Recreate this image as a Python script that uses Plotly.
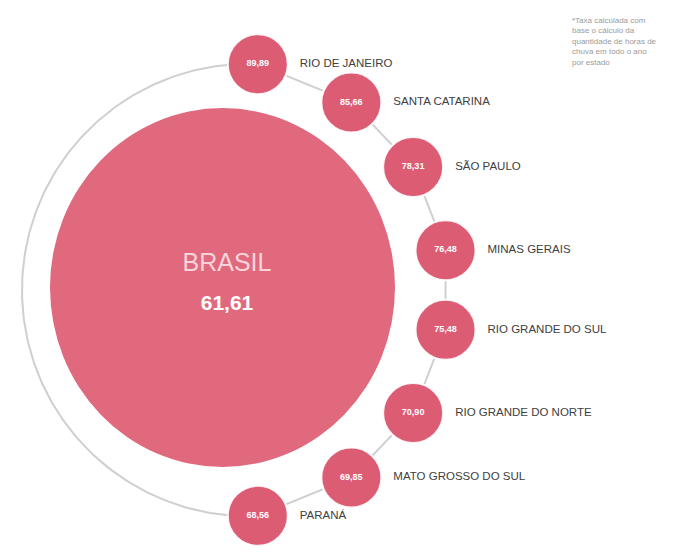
import numpy as np
import plotly.graph_objects as go

# ---- data ----
states = ["RIO DE JANEIRO", "SANTA CATARINA", "SÃO PAULO", "MINAS GERAIS",
          "RIO GRANDE DO SUL", "RIO GRANDE DO NORTE", "MATO GROSSO DO SUL", "PARANÁ"]
values = [89.89, 85.66, 78.31, 76.48, 75.48, 70.90, 69.85, 68.56]
brasil_label = "BRASIL"
brasil_value = 61.61
note_lines = ["*Taxa calculada com", "base o cálculo da", "quantidade de horas de",
              "chuva em todo o ano", "por estado"]


def br(v):
    return f"{v:.2f}".replace(".", ",")


W, H = 691, 552
cx, cy, R = 220, 290, 229
ang_deg = [-80.5, -55, -32.5, -10, 10, 32.5, 55, 80.5]
ang = np.radians(ang_deg)
xs = cx + R * np.cos(ang)
ys = cy + R * np.sin(ang)

# outer grey arc passing through first and last circle
d = xs[0] - 22
dy = ys[0] - cy
r_arc = (d ** 2 + dy ** 2) / (2 * d)
acx = 22 + r_arc
a0 = np.degrees(np.arctan2(ys[0] - cy, xs[0] - acx)) % 360
a1 = np.degrees(np.arctan2(ys[-1] - cy, xs[-1] - acx))
t = np.radians(np.linspace(a0, a1, 200))
arc_x = acx + r_arc * np.cos(t)
arc_y = cy + r_arc * np.sin(t)

grey = "#cfcfcf"
small_col = "#dc5c74"
big_col = "#e0697e"

fig = go.Figure()
fig.add_trace(go.Scatter(x=arc_x, y=arc_y, mode="lines",
                         line=dict(color=grey, width=2), hoverinfo="skip"))
fig.add_trace(go.Scatter(x=xs, y=ys, mode="lines",
                         line=dict(color=grey, width=2), hoverinfo="skip"))
fig.add_trace(go.Scatter(
    x=xs, y=ys, mode="markers+text",
    marker=dict(size=60, color=small_col, line=dict(color="rgba(255,255,255,0.9)", width=2)),
    text=[br(v) for v in values], textposition="middle center",
    textfont=dict(family="Liberation Sans", size=9, color="white", weight="bold"),
    hoverinfo="skip"))
fig.add_trace(go.Scatter(
    x=xs + 42, y=ys, mode="text", text=states, textposition="middle right",
    textfont=dict(family="Liberation Sans", size=11.5, color="#404040"),
    hoverinfo="skip"))

# big circle
fig.add_shape(type="circle", xref="x", yref="y", x0=50, x1=395,
              y0=108, y1=467, fillcolor=big_col, line=dict(width=0),
              layer="below")
fig.add_trace(go.Scatter(
    x=[227, 227], y=[265, 305], mode="text",
    text=[brasil_label, br(brasil_value)], textposition="middle center",
    textfont=dict(family="Liberation Sans", size=[25, 21], color=["#f8d4da", "white"],
                  weight=["normal", "bold"]),
    hoverinfo="skip"))

fig.add_annotation(x=570, y=14, xref="x", yref="y", xanchor="left", yanchor="top",
                   text="<br>".join(note_lines), showarrow=False, align="left",
                   font=dict(family="Liberation Sans", size=8, color="#9a9a9a"))

fig.update_layout(
    width=W, height=H, autosize=False, margin=dict(l=0, r=0, t=0, b=0),
    paper_bgcolor="white", plot_bgcolor="white", showlegend=False,
    xaxis=dict(range=[0, W], visible=False, fixedrange=True),
    yaxis=dict(range=[H, 0], visible=False, fixedrange=True),
)
fig.write_html("out.html")
